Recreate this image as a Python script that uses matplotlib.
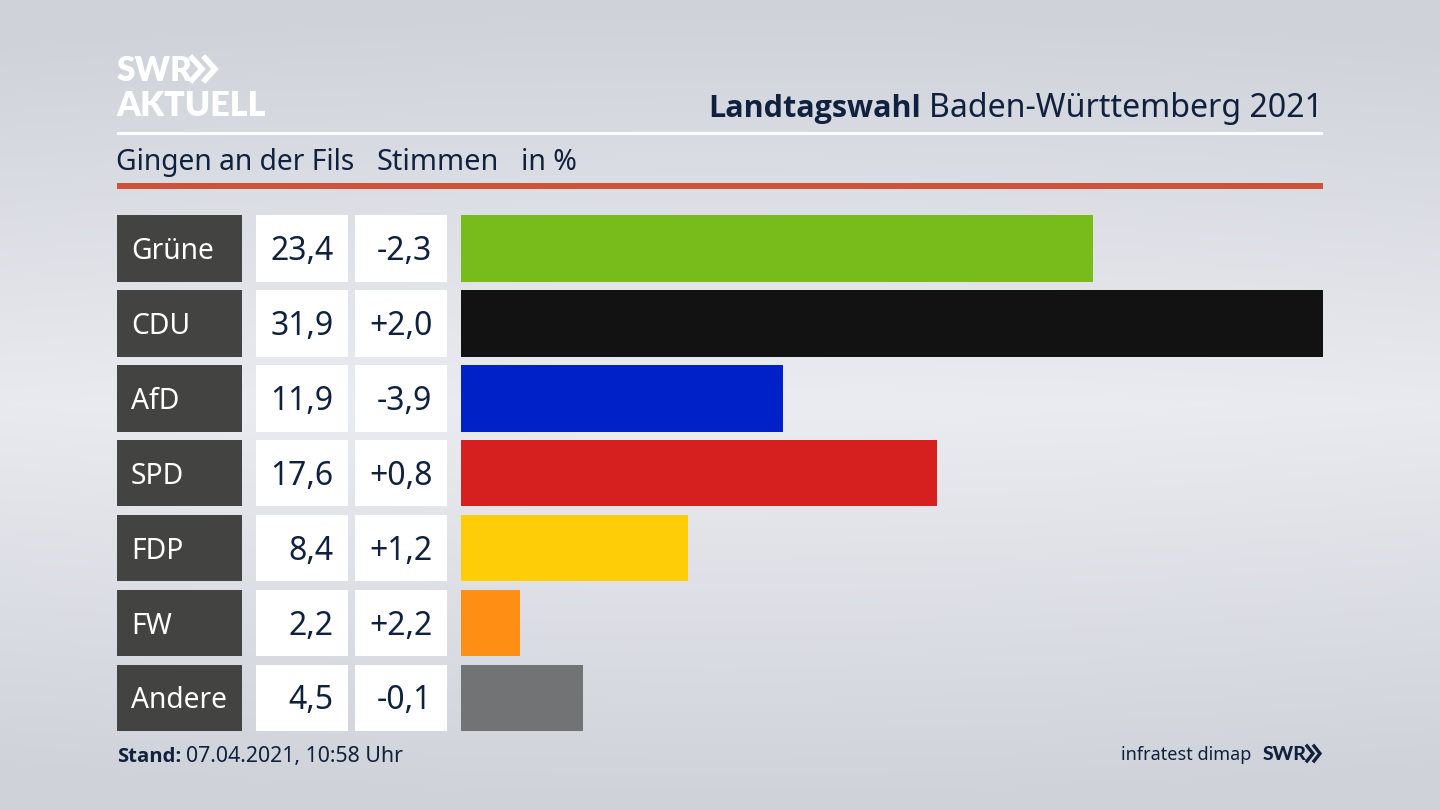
import numpy as np
import matplotlib
matplotlib.use("Agg")
import matplotlib.pyplot as plt
from matplotlib.patches import Rectangle

parties = ["Grüne", "CDU", "AfD", "SPD", "FDP", "FW", "Andere"]
shares = [23.4, 31.9, 11.9, 17.6, 8.4, 2.2, 4.5]
changes = [-2.3, 2.0, -3.9, 0.8, 1.2, 2.2, -0.1]
colors = ["#78bc1b", "#121212", "#0021c8", "#d61f1f", "#ffcc08", "#ff8f14", "#727375"]

NAVY = "#10213f"
plt.rcParams["font.family"] = "Noto Sans"


def de(value, signed=False):
    # german decimal comma
    text = f"{value:+.1f}" if signed else f"{value:.1f}"
    return text.replace(".", ",")


fig = plt.figure(figsize=(14.4, 8.1), dpi=100)

# Full figure axes in pixels for background, header and cells
ax = fig.add_axes([0, 0, 1, 1])
ax.set_xlim(0, 1440)
ax.set_ylim(810, 0)
ax.axis("off")

# Background: light band in the middle, darker towards top, bottom and corners
yy, xx = np.mgrid[0:1:81j, 0:1:144j]
shade = np.abs(yy - 0.5) * 2 + np.abs(xx - 0.5) ** 2 * 0.3
light = np.array([234, 236, 241]) / 255
dark = np.array([207, 210, 217]) / 255
bg = light + (dark - light) * np.clip(shade, 0, 1)[..., None]
ax.imshow(bg, extent=[0, 1440, 810, 0], aspect="auto", interpolation="bilinear", zorder=0)

# Logo
ax.text(117, 81, "SWR", color="white", fontsize=24, family="Lato", fontweight=800, va="baseline")
ax.text(116, 115.5, "AKTUELL", color="white", fontsize=24.5, family="Lato", fontweight=800, va="baseline")
for x0 in (192, 205):
    ax.plot([x0, x0 + 10, x0], [58, 69, 80], color="white", lw=4, solid_joinstyle="miter")
for x0 in (1307, 1314):
    ax.plot([x0, x0 + 6, x0], [746, 753.5, 761], color=NAVY, lw=2.4, solid_joinstyle="miter")

# Header
ax.text(921, 117, "Landtagswahl", color=NAVY, fontsize=22, family="Open Sans", fontweight="bold", va="baseline", ha="right")
ax.text(1323, 117, "Baden-Württemberg 2021", color=NAVY, fontsize=23.1, va="baseline", ha="right")
ax.add_patch(Rectangle((117, 132), 1206, 3, color="white", lw=0))
ax.text(116.5, 170, "Gingen an der Fils", color=NAVY, fontsize=20.3, va="baseline")
ax.text(377, 170, "Stimmen", color=NAVY, fontsize=20.8, va="baseline")
ax.text(521, 170, "in %", color=NAVY, fontsize=20.5, va="baseline")
ax.add_patch(Rectangle((117, 183), 1206, 6, color="#cd5238", lw=0))

# Rows of cells
row_top = 215
row_step = 74.93
row_h = 66.7
for i, party in enumerate(parties):
    top = row_top + i * row_step
    mid = top + row_h / 2 + 3
    ax.add_patch(Rectangle((117, top), 124.5, row_h, color="#434342", lw=0, zorder=2))
    ax.add_patch(Rectangle((255.5, top), 92.5, row_h, color="white", lw=0, zorder=2))
    ax.add_patch(Rectangle((355, top), 92, row_h, color="white", lw=0, zorder=2))
    ax.text(131, mid, party, color="white", fontsize=20.3, va="center", zorder=3)
    ax.text(333.5, mid, de(shares[i]), color=NAVY, fontsize=23, va="center", ha="right", zorder=3)
    ax.text(432.5, mid, de(changes[i], signed=True), color=NAVY, fontsize=23, va="center", ha="right", zorder=3)

# Bars, scaled so that the largest share reaches the right margin
bar_ax = fig.add_axes([461 / 1440, 1 - (row_top + 6 * row_step + row_h) / 810, 862 / 1440, (6 * row_step + row_h) / 810])
bar_ax.patch.set_alpha(0)
bar_ax.barh(range(len(parties)), shares, height=row_h / row_step, color=colors)
bar_ax.set_xlim(0, max(shares))
half = row_h / row_step / 2
bar_ax.set_ylim(6 + half, -half)
bar_ax.axis("off")

# Footer
ax.text(117, 762, "Stand:", color=NAVY, fontsize=14.6, family="Open Sans", fontweight="bold", va="baseline")
ax.text(186, 762, "07.04.2021, 10:58 Uhr", color=NAVY, fontsize=15.35, va="baseline")
ax.text(1251, 760, "infratest dimap", color=NAVY, fontsize=13, va="baseline", ha="right")
ax.text(1263, 760, "SWR", color=NAVY, fontsize=14, family="Lato", fontweight=900, va="baseline")

fig.savefig("out.png", dpi=100)
